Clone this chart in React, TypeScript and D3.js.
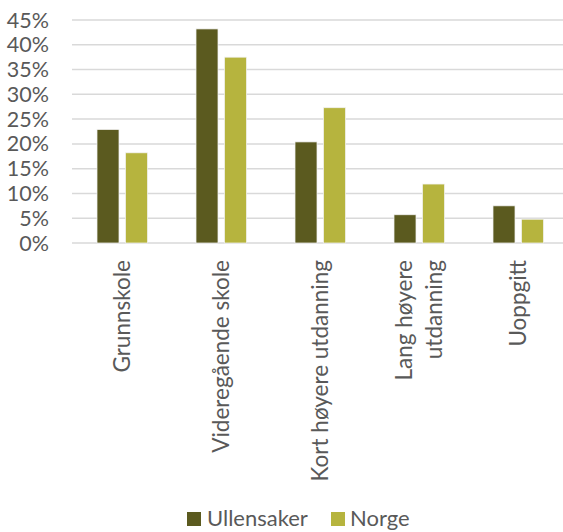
import React from 'react';
import * as d3 from 'd3';

const categories = ['Grunnskole', 'Videregående skole', 'Kort høyere utdanning', 'Lang høyere\nutdanning', 'Uoppgitt'];
const seriesNames = ['Ullensaker', 'Norge'];
const ullensaker = [22.9, 43.2, 20.4, 5.7, 7.5];
const norge = [18.2, 37.5, 27.3, 11.9, 4.8];
const yTicks = [0, 5, 10, 15, 20, 25, 30, 35, 40, 45];

const W = 563;
const H = 532;
const colors = ['#5b5a1f', '#b6b43e'];
const font = 'Lato, "Open Sans", sans-serif';
const textColor = '#595959';

export default function App() {
  const x = d3.scaleBand<string>().domain(categories).range([72, 567]);
  const y = d3.scaleLinear().domain([0, 45]).range([243, 20]);
  // two bars per group, 22px wide with a small gap, starting 25px into each band
  const inner = d3.scaleBand<string>().domain(seriesNames).range([25, 75.5]).paddingInner(0.228);
  const data = [ullensaker, norge];

  return (
    <svg width={W} height={H} style={{ position: 'absolute', left: 0, top: 0, background: '#fff' }} fontFamily={font}>
      {yTicks.map(t => (
        <line key={t} x1={72} x2={W} y1={y(t)} y2={y(t)} stroke="#d9d9d9" strokeWidth={1.5} />
      ))}
      {yTicks.map(t => (
        <text key={t} x={49} y={y(t)} dy="0.35em" textAnchor="end" fontSize={21.5} fill={textColor}>{t}%</text>
      ))}
      {categories.map((c, i) => (
        <g key={c} transform={`translate(${x(c)},0)`}>
          {seriesNames.map((s, j) => (
            <rect key={s} x={inner(s)} y={y(data[j][i])} width={inner.bandwidth()} height={y(0) - y(data[j][i])}
              fill={colors[j]} stroke="#f2f2f2" strokeWidth={0.75} />
          ))}
        </g>
      ))}
      {categories.map(c => {
        const lines = c.split('\n');
        const cx = (x(c) as number) + x.bandwidth() / 2 + 1;
        return (
          <g key={c} transform={`translate(${cx},260) rotate(-90)`}>
            {lines.map((l, k) => (
              <text key={k} x={0} y={(k - (lines.length - 1) / 2) * 30} dy="0.35em" textAnchor="end" fontSize={22.5} fill={textColor}>{l}</text>
            ))}
          </g>
        );
      })}
      <g>
        <rect x={187} y={512} width={14} height={14} fill={colors[0]} />
        <text x={207} y={526} fontSize={22} fill={textColor}>{seriesNames[0]}</text>
        <rect x={331} y={512} width={14} height={14} fill={colors[1]} />
        <text x={350} y={526} fontSize={22} fill={textColor}>{seriesNames[1]}</text>
      </g>
    </svg>
  );
}
